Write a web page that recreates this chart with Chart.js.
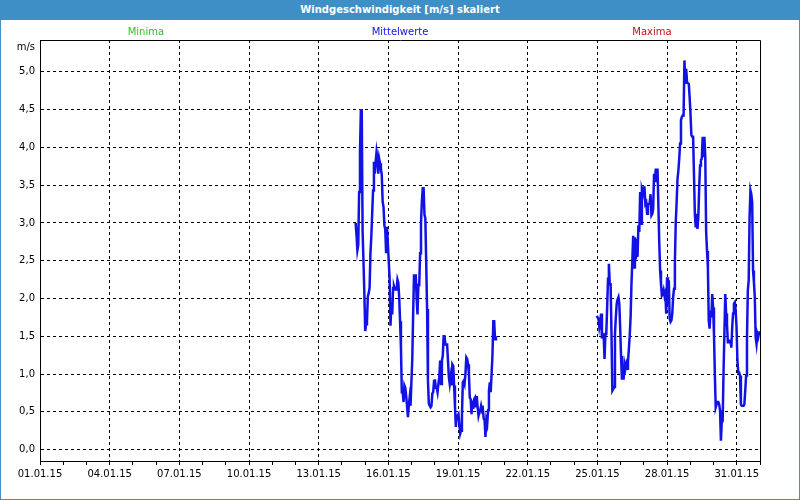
<!DOCTYPE html>
<html>
<head>
<meta charset="utf-8">
<script src="https://cdn.jsdelivr.net/npm/chart.js@4/dist/chart.umd.min.js"></script>
<style>
body{margin:0;background:#fff}
#frame{width:800px;height:500px;box-sizing:border-box;border:1px solid #3d8fc6;border-top:0;background:#fff}
#title{height:20px;background:#3d8fc6;color:#fff;font:bold 10px "DejaVu Sans";text-align:center;line-height:20px}
#wrap{width:798px;height:479px}
</style>
</head>
<body>
<div id="frame">
<div id="title">Windgeschwindigkeit [m/s] skaliert</div>
<div id="wrap"><canvas id="chart" width="798" height="479"></canvas></div>
</div>
<script>
// series shown in the legend, only the mean values have data
const seriesNames = ['Minima', 'Mittelwerte', 'Maxima'];
const seriesColors = ['#2fc21f', '#1212e6', '#c01010'];

// x ticks, every 3rd day (x value = days after 01.01.15 00:00)
const dateLabels = ['01.01.15', '04.01.15', '07.01.15', '10.01.15', '13.01.15', '16.01.15',
  '19.01.15', '22.01.15', '25.01.15', '28.01.15', '31.01.15'];

// first block of mean values (m/s), roughly hourly
const seg1Start = 13.59;
const seg1End = 19.63;
const seg1Values = [3.00,2.84,2.64,2.71,3.41,3.94,4.49,4.49,2.89,2.49,
  2.07,1.57,1.66,1.70,2.03,2.07,2.14,2.60,2.82,3.13,
  3.43,3.81,3.65,3.81,3.94,3.85,3.65,3.85,3.79,3.72,
  3.63,3.28,3.21,2.97,2.91,2.60,2.95,2.95,2.49,2.27,
  1.64,1.92,1.79,2.14,2.16,2.12,2.12,2.12,2.25,2.21,
  2.01,1.70,1.35,0.76,0.76,0.63,0.85,0.82,0.71,0.58,
  0.43,0.58,0.69,0.58,0.89,1.20,1.79,2.32,2.14,2.32,
  1.99,1.79,2.18,2.18,2.60,3.00,3.28,3.46,3.46,3.11,
  3.06,2.47,1.86,0.91,0.61,0.58,0.56,0.58,0.74,0.76,
  0.91,0.93,0.82,0.82,0.76,0.87,0.96,1.18,0.87,1.18,
  1.24,1.50,1.50,1.39,1.39,1.39,1.39,0.96,0.87,0.96,
  0.85,1.13,1.11,0.85,0.58,0.30,0.45,0.45,0.47,0.34,
  0.21,0.25,0.45,0.89,0.91,0.87,1.00,1.22,1.20,1.13,
  1.00,0.69,0.67,0.47,0.65,0.54,0.67,0.69,0.56,0.71,
  0.56,0.45,0.50,0.52,0.58,0.52,0.54,0.41,0.39,0.17,
  0.39,0.34,0.52,0.78,0.89,0.76,1.00,1.24,1.70,1.70,
  1.46,1.50];

// second block of mean values (m/s)
const seg2Start = 23.97;
const seg2End = 31.0;
const seg2Values = [1.77,1.75,1.73,1.62,1.69,1.80,1.47,1.53,1.51,1.20,
  1.53,1.53,1.88,2.26,2.46,2.19,2.19,1.53,0.78,0.80,
  0.83,1.53,1.75,1.93,1.99,2.02,1.93,1.62,1.24,0.94,
  0.94,0.94,1.13,1.07,1.13,1.07,1.16,1.33,1.51,1.75,
  2.19,2.50,2.83,2.41,2.81,2.52,2.79,2.55,2.97,2.88,
  3.41,2.99,3.43,3.38,3.47,3.47,3.25,3.27,3.12,3.25,
  3.25,3.27,3.38,3.10,3.12,3.19,3.65,3.54,3.72,3.54,
  3.72,3.23,2.74,2.37,2.19,2.04,2.06,2.11,2.04,2.08,
  1.80,2.28,1.93,2.24,1.73,1.69,1.71,1.80,2.02,2.13,
  2.48,3.01,3.27,3.58,3.69,3.85,4.05,4.36,4.40,4.42,
  4.42,5.15,4.84,5.04,4.86,4.86,4.84,4.66,4.44,4.16,
  4.14,4.14,4.14,3.12,2.94,3.12,2.92,3.08,3.47,3.76,
  3.83,3.85,4.14,3.87,4.14,3.87,2.88,2.63,2.41,1.71,
  1.60,1.84,1.75,2.06,1.88,1.53,1.00,0.56,0.60,0.63,
  0.63,0.60,0.52,0.12,0.38,0.38,1.02,1.53,2.06,1.80,
  1.66,1.42,1.42,1.44,1.44,1.35,1.62,1.80,1.93,1.95,
  1.84,1.62,1.18,1.02,1.02,0.98,0.60,0.58,0.58,0.58,
  0.60,0.78,0.98,1.47,2.11,2.24,3.08,3.43,3.38,3.27,
  2.37,2.22,2.02,1.49,1.40,1.53,1.49,1.55,1.55];

function toPoints(start, end, values){
  const step = (end - start) / (values.length - 1);
  return values.map((v, i) => ({x: start + i * step, y: v}));
}

const meanPoints = toPoints(seg1Start, seg1End, seg1Values)
  .concat([{x: (seg1End + seg2Start) / 2, y: null}])
  .concat(toPoints(seg2Start, seg2End, seg2Values));

Chart.defaults.font.family = '"DejaVu Sans"';
Chart.defaults.font.size = 10;
Chart.defaults.color = '#000';

const clear = 'rgba(0,0,0,0)';

function align(p){
  return Math.round(p - 0.5) + 0.5;
}

const framePlugin = {
  id: 'frame',
  afterDraw(chart){
    const ctx = chart.ctx;
    const a = chart.chartArea;
    ctx.save();
    ctx.strokeStyle = '#000';
    ctx.lineWidth = 1;
    ctx.beginPath();
    ctx.moveTo(align(a.left), align(a.top));
    ctx.lineTo(align(a.right), align(a.top));
    ctx.lineTo(align(a.right), align(a.bottom));
    ctx.stroke();

    ctx.font = '10px "DejaVu Sans"';
    ctx.textBaseline = 'middle';
    ctx.textAlign = 'right';
    ctx.fillStyle = '#000';
    ctx.fillText('m/s', a.left - 5, a.top + 7);

    // legend texts
    const spots = [0.147, 0.5, 0.85];
    ctx.textAlign = 'center';
    chart.data.datasets.forEach((ds, i) => {
      ctx.fillStyle = ds.borderColor;
      ctx.fillText(ds.label, a.left + (a.right - a.left) * spots[i], a.top - 8);
    });
    ctx.restore();
  }
};

new Chart(
  document.getElementById('chart'),
  {
    type: 'line',
    data: {
      datasets: seriesNames.map((name, i) => ({
        label: name,
        data: i === 1 ? meanPoints : [],
        borderColor: seriesColors[i],
        backgroundColor: seriesColors[i],
        borderWidth: 2.5,
        pointRadius: 0,
        tension: 0,
        spanGaps: false,
        fill: false
      }))
    },
    options: {
      responsive: false,
      animation: false,
      layout: {padding: {left: 0, right: 39, top: 20, bottom: 0}},
      plugins: {
        legend: {display: false},
        title: {display: false},
        tooltip: {enabled: false}
      },
      scales: {
        x: {
          type: 'linear',
          min: 0,
          max: 31,
          afterFit: s => { s.height = 38; },
          ticks: {
            stepSize: 1,
            autoSkip: false,
            maxRotation: 0,
            padding: 3,
            color: '#000',
            callback: v => (v % 3 === 0 ? dateLabels[v / 3] : '')
          },
          grid: {
            color: c => (c.tick && c.tick.value % 3 === 0 && c.tick.value > 0 && c.tick.value < 31) ? '#000' : clear,
            tickColor: '#000',
            tickLength: 4,
            lineWidth: 1
          },
          border: {color: '#000', width: 1, dash: [3, 3]}
        },
        y: {
          min: -0.15,
          max: 5.42,
          afterFit: s => { s.width = 39; },
          ticks: {
            stepSize: 0.5,
            includeBounds: false,
            padding: 5,
            color: '#000',
            callback: v => v.toFixed(1).replace('.', ',')
          },
          grid: {
            drawTicks: false,
            color: c => (c.tick && c.tick.value >= 0) ? '#000' : clear,
            lineWidth: 1
          },
          border: {color: '#000', width: 1, dash: [3, 3]}
        }
      }
    },
    plugins: [framePlugin]
  }
);
</script>
</body>
</html>
